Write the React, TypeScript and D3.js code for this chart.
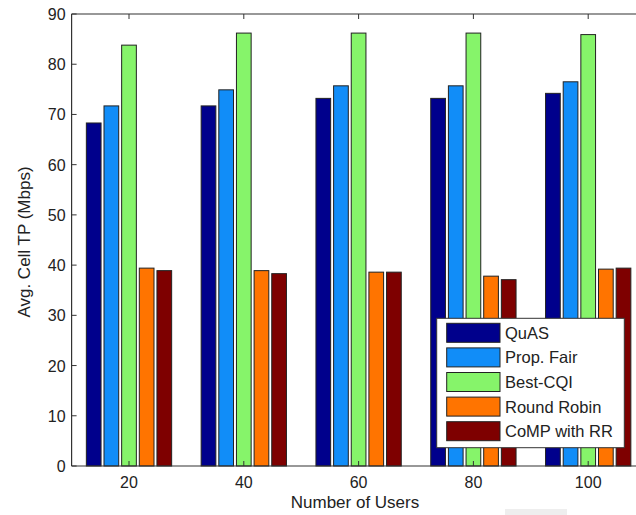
import React from "react";
import * as d3 from "d3";

const categories = ["20", "40", "60", "80", "100"];
const seriesNames = ["QuAS", "Prop. Fair", "Best-CQI", "Round Robin", "CoMP with RR"];
const seriesColors = ["#00008C", "#118DF8", "#86F46A", "#FF7400", "#7E0000"];
const quas = [68.3, 71.7, 73.2, 73.2, 74.2];
const propFair = [71.7, 74.9, 75.7, 75.7, 76.5];
const bestCqi = [83.8, 86.2, 86.2, 86.2, 85.9];
const roundRobin = [39.4, 38.9, 38.6, 37.8, 39.2];
const compRR = [38.9, 38.3, 38.6, 37.1, 39.4];
const yTicks = [0, 10, 20, 30, 40, 50, 60, 70, 80, 90];

const seriesValues = [quas, propFair, bestCqi, roundRobin, compRR];

export default function App() {
  const W = 636, H = 515;
  const left = 71.6, right = 645.6, top = 14, bottom = 466;
  const font = "'Liberation Sans', Arial, sans-serif";

  const x = d3.scaleBand<string>().domain(categories).range([left, right]).padding(0);
  const groupW = 85.3;
  const inner = d3
    .scaleBand<number>()
    .domain(d3.range(seriesNames.length))
    .range([-groupW / 2, groupW / 2])
    .paddingInner(0.167)
    .paddingOuter(0);
  const y = d3.scaleLinear().domain([0, 90]).range([bottom, top]);

  const cx = (c: string) => (x(c) as number) + x.bandwidth() / 2;

  const legendX = 436.7, legendY = 318.3, legendW = 187.6, legendH = 129.4;
  const rowH = 24.6;

  return (
    <svg
      width={W}
      height={H}
      style={{ position: "absolute", left: 0, top: 0, background: "#fff" }}
      fontFamily={font}
    >
      <rect x={0} y={0} width={W} height={H} fill="#fff" />
      {/* bars */}
      {categories.map((c, ci) =>
        seriesValues.map((vals, si) => (
          <rect
            key={`${ci}-${si}`}
            x={cx(c) + (inner(si) as number)}
            y={y(vals[ci])}
            width={inner.bandwidth()}
            height={y(0) - y(vals[ci])}
            fill={seriesColors[si]}
            stroke="#222"
            strokeWidth={1}
          />
        ))
      )}
      {/* axes box */}
      <line x1={left} x2={right} y1={top} y2={top} stroke="#333" strokeWidth={1.2} />
      <line x1={left} x2={right} y1={bottom} y2={bottom} stroke="#333" strokeWidth={1.2} />
      <line x1={left} x2={left} y1={top} y2={bottom} stroke="#333" strokeWidth={1.2} />
      {/* x ticks */}
      {categories.map((c) => (
        <g key={c}>
          <line x1={cx(c)} x2={cx(c)} y1={bottom} y2={bottom - 5} stroke="#333" />
          <line x1={cx(c)} x2={cx(c)} y1={top} y2={top + 5} stroke="#333" />
          <text x={cx(c)} y={bottom + 22} textAnchor="middle" fontSize={16} fill="#222">
            {c}
          </text>
        </g>
      ))}
      {/* y ticks */}
      {yTicks.map((t) => (
        <g key={t}>
          <line x1={left} x2={left + 5} y1={y(t)} y2={y(t)} stroke="#333" />
          <text x={left - 6} y={y(t) + 6} textAnchor="end" fontSize={16} fill="#222">
            {t}
          </text>
        </g>
      ))}
      {/* axis labels */}
      <text x={355} y={508} textAnchor="middle" fontSize={17} fill="#222">
        Number of Users
      </text>
      <text
        transform={`translate(29.5, 242) rotate(-90)`}
        textAnchor="middle"
        fontSize={17}
        fill="#222"
      >
        Avg. Cell TP (Mbps)
      </text>
      {/* legend */}
      <rect x={legendX} y={legendY} width={legendW} height={legendH} fill="#fff" stroke="#333" strokeWidth={1} />
      {seriesNames.map((n, i) => (
        <g key={n}>
          <rect
            x={446.7}
            y={legendY + 5 + i * rowH}
            width={53.3}
            height={19}
            fill={seriesColors[i]}
            stroke="#222"
            strokeWidth={1}
          />
          <text x={505} y={legendY + 20.5 + i * rowH} fontSize={16.5} fill="#222">
            {n}
          </text>
        </g>
      ))}
      <rect x={505} y={509} width={62} height={6} fill="#eeeeee" />
    </svg>
  );
}
